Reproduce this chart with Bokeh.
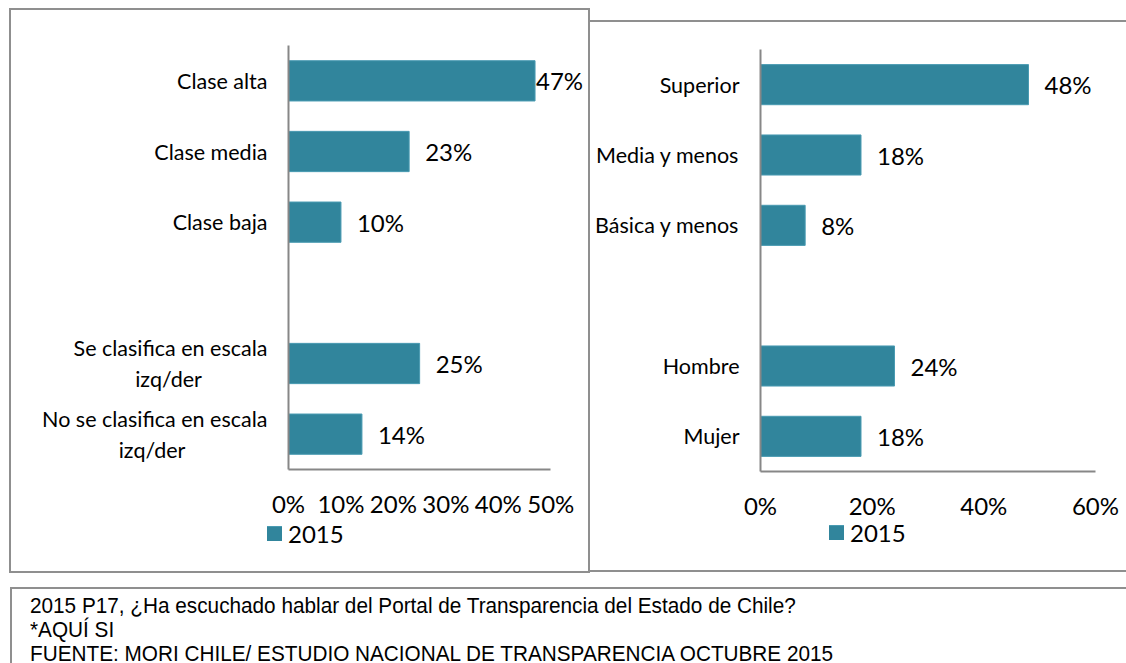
from bokeh.plotting import figure
from bokeh.models import (FactorRange, Range1d, FixedTicker, PrintfTickFormatter,
                          ColumnDataSource, Div, LabelSet)
from bokeh.layouts import column, row
from bokeh.core.properties import value
from bokeh.embed import file_html
from bokeh.resources import INLINE

# ---------------- data ----------------
BLANK = " "
left_categories = ["Clase alta", "Clase media", "Clase baja", BLANK,
                   "Se clasifica en escala\nizq/der", "No se clasifica en escala\nizq/der"]
left_values = [47, 23, 10, 25, 14]
left_ticks = [0, 10, 20, 30, 40, 50]

right_categories = ["Superior", "Media y menos", "Básica y menos", BLANK, "Hombre", "Mujer"]
right_values = [48, 18, 8, 24, 18]
right_ticks = [0, 20, 40, 60]

series_name = "2015"
footer_lines = [
    "2015 P17, ¿Ha escuchado hablar del Portal de Transparencia del Estado de Chile?",
    "*AQUÍ SI",
    "FUENTE: MORI CHILE/ ESTUDIO NACIONAL DE TRANSPARENCIA OCTUBRE 2015",
]

# ---------------- styles ----------------
BAR = "#31859C"
BAR_EDGE = "#4A9BB2"
AXIS = "#878787"
BOX = "#8f8f8f"
FONT = "Lato"
CAT_SIZE = "21.5px"
VAL_SIZE = "24px"
B = f"2px solid {BOX}"


def centered_label(label, char_px=9.0, line2_px=66.0, nbsp_px=5.4):
    """Pad the second line of a wrapped label so it sits centred under the first."""
    lines = label.split("\n")
    if len(lines) == 1:
        return label
    w1 = len(lines[0]) * char_px
    pad = max(0, int(round((w1 - line2_px) / 2 / nbsp_px)))
    return lines[0] + "\n" + lines[1] + "\u00a0" * pad + "\u200b"


def make_chart(cats, vals, xview, xmax, ticks, w, h, bl, bt, br, bb, styles, margin):
    shown = [centered_label(c) for c in cats]
    factors = list(reversed(shown))
    p = figure(width=w, height=h, x_range=Range1d(0, xview),
               y_range=FactorRange(factors=factors),
               output_backend="svg", toolbar_location=None,
               min_border_left=bl, min_border_top=bt,
               min_border_right=br, min_border_bottom=bb)
    bar_cats = [s for c, s in zip(cats, shown) if c != BLANK]
    offs = [1 if v >= 0.9 * xmax else 16 for v in vals]
    src = ColumnDataSource(dict(cat=bar_cats, val=vals,
                                label=[f"{v}%" for v in vals], off=offs))
    p.hbar(y="cat", left=0, right="val", height=0.57, source=src,
           fill_color=BAR, line_color=BAR_EDGE, line_width=1)
    labels = LabelSet(x="val", y="cat", text="label", x_offset="off", source=src,
                      text_font=value(FONT), text_font_size=value(VAL_SIZE),
                      text_color="#000000",
                      text_baseline="middle", text_align="left")
    p.add_layout(labels)

    p.grid.visible = False
    p.outline_line_color = None
    p.background_fill_color = "white"
    p.border_fill_color = "white"

    p.xaxis.bounds = (0, xmax)
    p.xaxis.ticker = FixedTicker(ticks=ticks)
    p.xaxis.formatter = PrintfTickFormatter(format="%d%%")
    p.xaxis.major_tick_line_color = None
    p.xaxis.minor_tick_line_color = None
    p.xaxis.major_tick_out = 0
    p.xaxis.major_tick_in = 0
    p.xaxis.axis_line_color = AXIS
    p.xaxis.axis_line_width = 2
    p.xaxis.major_label_standoff = 19
    p.xaxis.major_label_text_font = FONT
    p.xaxis.major_label_text_font_size = VAL_SIZE
    p.xaxis.major_label_text_color = "#000000"

    p.yaxis.major_tick_line_color = None
    p.yaxis.minor_tick_line_color = None
    p.yaxis.major_tick_out = 0
    p.yaxis.major_tick_in = 0
    p.yaxis.axis_line_color = AXIS
    p.yaxis.axis_line_width = 2
    p.yaxis.major_label_standoff = 21
    p.yaxis.major_label_text_font = FONT
    p.yaxis.major_label_text_font_size = CAT_SIZE
    p.yaxis.major_label_text_color = "#000000"

    p.styles = styles
    p.margin = margin
    return p


def make_legend(w, h, pad_left, row_h, styles, margin):
    html = (f'<div style="display:flex;align-items:center;height:{row_h}px;">'
            f'<span style="display:inline-block;width:15px;height:15px;background:{BAR};'
            f'box-sizing:border-box;border-top:1px solid {BAR_EDGE};"></span>'
            f'<span style="margin-left:6px;font-family:{FONT};font-size:{VAL_SIZE};'
            f'color:#000;line-height:{row_h}px;">{series_name}</span></div>')
    st = dict(styles)
    st.update({"box-sizing": "border-box", "padding": f"0 0 0 {pad_left}px",
               "background": "white"})
    return Div(text=html, width=w, height=h, styles=st, margin=margin)


left_chart = make_chart(left_categories, left_values, 57, 50, left_ticks,
                        w=581, h=513, bl=277, bt=35, br=5, bb=54,
                        styles={"border-top": B, "border-left": B, "border-right": B,
                                "box-sizing": "border-box"},
                        margin=(8, 0, 0, 9))
left_legend = make_legend(581, 52, 256, 25,
                          styles={"border-bottom": B, "border-left": B, "border-right": B},
                          margin=(0, 0, 0, 9))

right_chart = make_chart(right_categories, right_values, 60, 60, right_ticks,
                         w=536, h=501, bl=170, bt=27, br=31, bb=52,
                         styles={"border-top": B, "box-sizing": "border-box"},
                         margin=(20, 0, 0, 0))
right_legend = make_legend(536, 51, 239, 23,
                           styles={"border-bottom": B},
                           margin=(0, 0, 0, 0))

line_style = ("transform:scaleX(0.943);transform-origin:0 0;white-space:nowrap;"
              "height:24px;line-height:24px;")
footer_html = "".join(f'<div style="{line_style}">{t}</div>' for t in footer_lines)
footer = Div(text=footer_html, width=1116, height=76,
             styles={"border-top": B, "border-left": B,
                     "box-sizing": "border-box", "padding": "5px 0 0 18px",
                     "font-family": "'Liberation Sans', Arial, sans-serif",
                     "font-size": "22px", "color": "#000",
                     "overflow": "hidden"},
             margin=(14, 0, 0, 10))

layout = column(row(column(left_chart, left_legend), column(right_chart, right_legend)),
                footer)

open("out.html", "w").write(file_html(layout, INLINE))
